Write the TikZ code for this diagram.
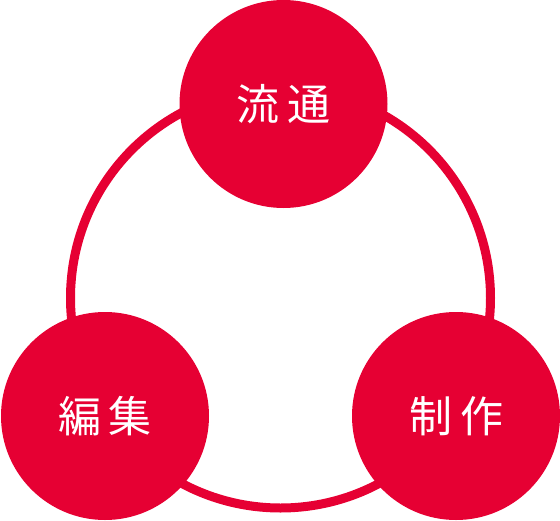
\documentclass[tikz,border=0pt]{standalone}
\usepackage{fontspec}
\usepackage{tikz}
\usepackage{xcolor}
\newfontfamily\jpfont{Noto Sans CJK JP}
\definecolor{ringred}{HTML}{E60033}
\tikzset{
    stage/.style={circle, fill=ringred, text=white, inner sep=0pt, minimum size=208pt,
        font=\jpfont\fontsize{43pt}{43pt}\selectfont},
    ring/.style={draw=ringred, line width=9pt}
}

\begin{document}
\begin{tikzpicture}[x=1pt, y=-1pt]
                        \useasboundingbox (0, 0) rectangle (560, 520);
                        \coordinate (hub) at (280.5, 298);
                        \draw[ring] (hub) circle[radius=210];
                        \node[stage] (ryutsu) at (283.5, 104) {流\hspace{8pt}通};
                        \node[stage] (henshu) at (105, 416) {編\hspace{8pt}集};
                        \node[stage] (seisaku) at (456, 416) {制\hspace{8pt}作};
                    \end{tikzpicture}
\end{document}
